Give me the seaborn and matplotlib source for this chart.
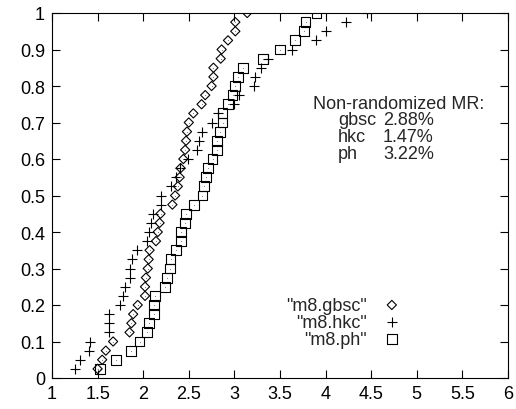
import numpy as np
import pandas as pd
import matplotlib
matplotlib.use("Agg")
import matplotlib.pyplot as plt
import seaborn as sns

# CDF levels shared by the three runs (40 samples each)
levels = [(k + 1) / 40 for k in range(40)]

gbsc_x = [1.50, 1.55, 1.59, 1.67, 1.85, 1.87, 1.89, 1.94, 2.02, 2.02,
          2.03, 2.05, 2.06, 2.07, 2.14, 2.16, 2.18, 2.19, 2.32, 2.35,
          2.38, 2.40, 2.41, 2.44, 2.46, 2.47, 2.48, 2.50, 2.55, 2.64,
          2.68, 2.75, 2.77, 2.77, 2.85, 2.86, 2.93, 3.01, 3.01, 3.14]
hkc_x = [1.25, 1.31, 1.41, 1.42, 1.62, 1.62, 1.63, 1.75, 1.78, 1.80,
         1.85, 1.85, 1.88, 1.93, 2.04, 2.06, 2.09, 2.11, 2.19, 2.19,
         2.30, 2.36, 2.40, 2.49, 2.59, 2.61, 2.64, 2.75, 2.82, 3.00,
         3.05, 3.21, 3.23, 3.29, 3.37, 3.63, 3.90, 4.00, 4.22, 4.45]
ph_x = [1.53, 1.70, 1.87, 1.96, 2.04, 2.06, 2.12, 2.12, 2.13, 2.24,
        2.26, 2.29, 2.30, 2.36, 2.41, 2.41, 2.46, 2.47, 2.56, 2.65,
        2.67, 2.69, 2.71, 2.76, 2.81, 2.81, 2.84, 2.87, 2.87, 2.93,
        2.98, 3.01, 3.04, 3.09, 3.31, 3.50, 3.66, 3.76, 3.78, 3.90]

series_labels = ['"m8.gbsc"', '"m8.hkc"', '"m8.ph"']
mr_names = ["gbsc", "hkc", "ph"]
mr_values = ["2.88%", "1.47%", "3.22%"]

x_ticks = [1, 1.5, 2, 2.5, 3, 3.5, 4, 4.5, 5, 5.5, 6]
y_ticks = [0, 0.1, 0.2, 0.3, 0.4, 0.5, 0.6, 0.7, 0.8, 0.9, 1]

FS = 13


def main():
    sns.set_theme(style="white")
    plt.rcParams["font.family"] = ["Liberation Sans", "DejaVu Sans"]
    plt.rcParams["font.size"] = FS
    plt.rcParams["axes.linewidth"] = 0.8

    fig, ax = plt.subplots(figsize=(5.16, 4.10), dpi=100)
    fig.subplots_adjust(left=52 / 516, right=508 / 516,
                        bottom=1 - 379 / 410, top=1 - 14 / 410)

    df_g = pd.DataFrame({"x": gbsc_x, "y": levels})
    df_h = pd.DataFrame({"x": hkc_x, "y": levels})
    df_p = pd.DataFrame({"x": ph_x, "y": levels})

    sns.scatterplot(data=df_g, x="x", y="y", marker="D", s=22,
                    facecolor="none", edgecolor="black", linewidth=0.8,
                    label=series_labels[0], ax=ax)
    sns.scatterplot(data=df_h, x="x", y="y", marker="+", s=56,
                    color="black", linewidth=0.8,
                    label=series_labels[1], ax=ax)
    sns.scatterplot(data=df_p, x="x", y="y", marker="s", s=50,
                    facecolor="none", edgecolor="black", linewidth=0.8,
                    label=series_labels[2], ax=ax)
    # little centre dots drawn by the original terminal
    for d in (df_g, df_p):
        sns.scatterplot(data=d, x="x", y="y", marker="o", s=0.6,
                        color="0.45", linewidth=0, legend=False, ax=ax)

    ax.set_xlim(1, 6)
    ax.set_ylim(0, 1)
    ax.set_xticks(x_ticks)
    ax.set_yticks(y_ticks)
    ax.set_xticklabels([f"{t:g}" for t in x_ticks])
    ax.set_yticklabels([f"{t:g}" for t in y_ticks])
    ax.set_xlabel("")
    ax.set_ylabel("")
    ax.tick_params(direction="in", length=6, width=0.8, top=True,
                   right=True, bottom=True, left=True, labelsize=FS,
                   colors="black", pad=5)
    for sp in ax.spines.values():
        sp.set_visible(True)
        sp.set_color("black")

    # annotation block
    ax.text(3.86, 0.753, "Non-randomized MR:", ha="left", va="center",
            fontsize=FS)
    for i, (nm, val) in enumerate(zip(mr_names, mr_values)):
        yy = 0.707 - i * 0.0465
        ax.text(4.136, yy, nm, ha="left", va="center", fontsize=FS)
        ax.text(4.63, yy, val, ha="left", va="center", fontsize=FS)

    ax.legend(loc="lower right", bbox_to_anchor=(0.765, 0.083),
              frameon=False, markerfirst=False, fontsize=FS,
              handletextpad=0.9, labelspacing=0.0, borderpad=0,
              borderaxespad=0, handlelength=1.0)

    fig.savefig("out.png", dpi=100)
    plt.close(fig)


if __name__ == "__main__":
    main()
